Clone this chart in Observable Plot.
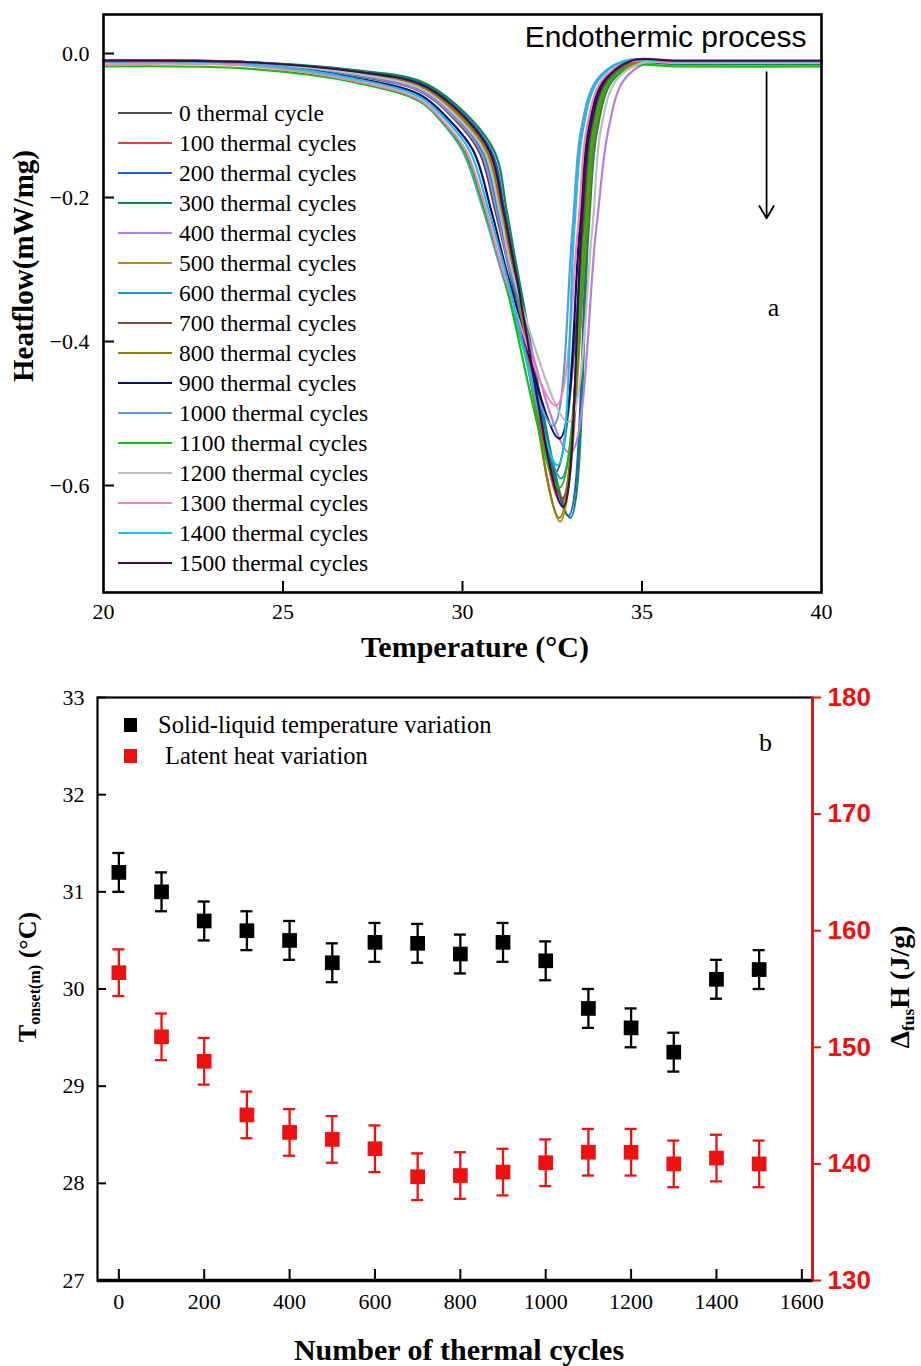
<!DOCTYPE html>
<html><head><meta charset="utf-8">
<script src="https://cdn.jsdelivr.net/npm/d3@7"></script>
<script src="https://cdn.jsdelivr.net/npm/@observablehq/plot@0.6"></script>
<style>
body{margin:0;background:#fff;}
#wrap{position:relative;width:921px;height:1366px;font-family:"Liberation Serif","Times New Roman",serif;color:#000;}
#wrap svg{display:block;}
.abs{position:absolute;white-space:nowrap;line-height:1;}
.rot{transform:translate(-50%,-50%) rotate(-90deg);}
.ctr{transform:translate(-50%,-50%);}
.lg{position:absolute;left:118px;top:98px;}
.lg .row{display:flex;align-items:center;height:30px;font-size:23.5px;}
.lg .sw{width:54px;height:2.6px;margin-right:7px;}
sub{font-size:0.62em;vertical-align:-0.3em;}
</style></head><body><div id="wrap"></div>
<script>
// ---------- Panel a: DSC curves ----------
const cycleLabels = ["0 thermal cycle","100 thermal cycles","200 thermal cycles","300 thermal cycles","400 thermal cycles","500 thermal cycles","600 thermal cycles","700 thermal cycles","800 thermal cycles","900 thermal cycles","1000 thermal cycles","1100 thermal cycles","1200 thermal cycles","1300 thermal cycles","1400 thermal cycles","1500 thermal cycles"];
const cycleColors = ["#4d4d4d","#ee3b3b","#1a5fd8","#0b8a4e","#b57ee0","#c8860c","#1b98c2","#7b4b40","#8c7b12","#0b0b6b","#5b9bd5","#12c012","#bdbdbd","#ff7fb0","#12c2ea","#3d0d4d"];
// [temperature (°C), heat flow (mW/mg)]
const dsc0    = [[20,-0.011],[24,-0.013],[27,-0.031],[28.8,-0.052],[29.63,-0.084],[30.45,-0.135],[30.91,-0.218],[31.37,-0.315],[32.58,-0.582],[33.38,-0.246],[33.62,-0.107],[34.04,-0.038],[34.77,-0.012],[36,-0.012],[40,-0.012]];
const dsc100  = [[20,-0.010],[24,-0.012],[27,-0.028],[28.8,-0.048],[29.7,-0.081],[30.6,-0.135],[31.03,-0.218],[31.45,-0.315],[32.75,-0.625],[33.36,-0.246],[33.6,-0.107],[34.02,-0.038],[34.75,-0.012],[36,-0.012],[40,-0.012]];
const dsc200  = [[20,-0.010],[24,-0.012],[27,-0.024],[28.8,-0.040],[29.8,-0.074],[30.8,-0.135],[31.17,-0.218],[31.54,-0.315],[32.95,-0.642],[33.48,-0.246],[33.72,-0.107],[34.14,-0.038],[34.87,-0.012],[36,-0.012],[40,-0.012]];
const dsc300  = [[20,-0.011],[24,-0.012],[27,-0.023],[28.8,-0.038],[29.84,-0.072],[30.88,-0.135],[31.23,-0.218],[31.58,-0.315],[33.0,-0.645],[33.51,-0.246],[33.75,-0.107],[34.17,-0.038],[34.9,-0.014],[36,-0.015],[40,-0.015]];
const dsc400  = [[20,-0.010],[24,-0.013],[27,-0.030],[28.8,-0.051],[29.65,-0.083],[30.5,-0.135],[30.95,-0.218],[31.4,-0.315],[33.0,-0.555],[33.72,-0.246],[34.06,-0.107],[34.48,-0.038],[35.15,-0.013],[36,-0.013],[40,-0.013]];
const dsc500  = [[20,-0.010],[24,-0.012],[27,-0.027],[28.8,-0.046],[29.73,-0.079],[30.65,-0.135],[31.06,-0.218],[31.47,-0.315],[32.72,-0.650],[33.46,-0.246],[33.7,-0.107],[34.12,-0.038],[34.85,-0.012],[36,-0.012],[40,-0.012]];
const dsc600  = [[20,-0.011],[24,-0.013],[27,-0.029],[28.8,-0.049],[29.68,-0.081],[30.55,-0.135],[30.99,-0.218],[31.42,-0.315],[32.75,-0.590],[33.41,-0.246],[33.65,-0.107],[34.07,-0.038],[34.8,-0.012],[36,-0.012],[40,-0.012]];
const dsc700  = [[20,-0.010],[24,-0.012],[27,-0.026],[28.8,-0.044],[29.75,-0.077],[30.7,-0.135],[31.1,-0.218],[31.49,-0.315],[32.78,-0.618],[33.36,-0.246],[33.6,-0.107],[34.02,-0.038],[34.75,-0.011],[36,-0.011],[40,-0.011]];
const dsc800  = [[20,-0.010],[24,-0.012],[27,-0.026],[28.8,-0.044],[29.75,-0.077],[30.7,-0.135],[31.1,-0.218],[31.49,-0.315],[32.7,-0.645],[33.46,-0.246],[33.7,-0.107],[34.12,-0.038],[34.85,-0.012],[36,-0.012],[40,-0.012]];
const dsc900  = [[20,-0.011],[24,-0.014],[27,-0.034],[28.8,-0.057],[29.55,-0.088],[30.3,-0.135],[30.8,-0.218],[31.3,-0.315],[32.7,-0.535],[33.26,-0.246],[33.5,-0.107],[33.92,-0.038],[34.65,-0.011],[36,-0.011],[40,-0.011]];
const dsc1000 = [[20,-0.011],[24,-0.014],[27,-0.039],[28.8,-0.066],[29.4,-0.094],[30.0,-0.135],[30.58,-0.218],[31.16,-0.315],[32.52,-0.517],[33.06,-0.246],[33.3,-0.107],[33.72,-0.038],[34.45,-0.011],[36,-0.011],[40,-0.011]];
const dsc1100 = [[20,-0.018],[24,-0.021],[27,-0.040],[28.8,-0.066],[29.43,-0.094],[30.05,-0.135],[30.62,-0.218],[31.18,-0.315],[32.7,-0.603],[33.41,-0.246],[33.65,-0.107],[34.07,-0.040],[34.8,-0.017],[36,-0.018],[40,-0.018]];
const dsc1200 = [[20,-0.011],[24,-0.013],[27,-0.028],[28.8,-0.048],[29.7,-0.081],[30.6,-0.135],[31.03,-0.218],[31.45,-0.315],[32.95,-0.512],[33.61,-0.246],[33.85,-0.107],[34.27,-0.038],[35.0,-0.013],[36,-0.013],[40,-0.013]];
const dsc1300 = [[20,-0.015],[24,-0.017],[27,-0.038],[28.8,-0.064],[29.45,-0.093],[30.1,-0.135],[30.66,-0.218],[31.21,-0.315],[32.6,-0.489],[33.21,-0.246],[33.45,-0.107],[33.87,-0.038],[34.6,-0.012],[36,-0.012],[40,-0.012]];
const dsc1400 = [[20,-0.011],[24,-0.014],[27,-0.035],[28.8,-0.060],[29.5,-0.090],[30.2,-0.135],[30.73,-0.218],[31.26,-0.315],[32.65,-0.572],[33.11,-0.246],[33.35,-0.107],[33.77,-0.038],[34.5,-0.011],[36,-0.011],[40,-0.011]];
const dsc1500 = [[20,-0.010],[24,-0.012],[27,-0.025],[28.8,-0.042],[29.78,-0.075],[30.75,-0.135],[31.14,-0.218],[31.52,-0.315],[32.8,-0.630],[33.31,-0.246],[33.55,-0.107],[33.97,-0.038],[34.7,-0.010],[36,-0.010],[40,-0.010]];
const dscSeries = [dsc0,dsc100,dsc200,dsc300,dsc400,dsc500,dsc600,dsc700,dsc800,dsc900,dsc1000,dsc1100,dsc1200,dsc1300,dsc1400,dsc1500];
const tempTicks = [20,25,30,35,40];
const heatTicks = [0,-0.2,-0.4,-0.6];
const endoText = [{x:39.58,y:0.022,t:"Endothermic process"}];
const endoArrow = [{x:38.47,y1:-0.026,y2:-0.229}];
const panelA = [{x:38.66,y:-0.353,t:"a"}];

// ---------- Panel b: cycling ----------
const cycles = [0,100,200,300,400,500,600,700,800,900,1000,1100,1200,1300,1400,1500];
const tOnset = [31.2,31.0,30.7,30.6,30.5,30.27,30.48,30.47,30.36,30.48,30.29,29.8,29.6,29.35,30.1,30.2];
const tOnsetErr = [0.2,0.2,0.2,0.2,0.2,0.2,0.2,0.2,0.2,0.2,0.2,0.2,0.2,0.2,0.2,0.2];
const latentHeat = [156.4,150.9,148.8,144.2,142.7,142.1,141.3,138.9,139.0,139.3,140.1,141.0,141.0,140.0,140.5,140.0];
const latentErr = [2.0,2.0,2.0,2.0,2.0,2.0,2.0,2.0,2.0,2.0,2.0,2.0,2.0,2.0,2.0,2.0];
const cycleTicks = [0,200,400,600,800,1000,1200,1400,1600];
const tTicks = [27,28,29,30,31,32,33];
const hTicks = [130,140,150,160,170,180];
const panelB = [{x:1515,y:32.53,t:"b"}];

(function(){
const SERIF = "'Liberation Serif', 'Times New Roman', serif";
const SANS = "'Liberation Sans', Arial, sans-serif";
const RED = "#ee1111";
const wrap = document.getElementById("wrap");
const svgStyle = `font-family: ${SERIF}; font-size: 22px; color: #000; background: transparent;`;

function fixFonts(chart){
  d3.select(chart).selectAll("text").style("font-family", SERIF);
  d3.select(chart).selectAll("g").filter(function(){return this.getAttribute("fill")===RED;}).selectAll("text").style("font-family", SANS);
  d3.select(chart).selectAll("g").filter(function(){return this.getAttribute("aria-label")==="text" && this.dataset.sans==="1";});
}

// ---- top plot
const A = {w:921,h:670,mt:14,mb:78,ml:103,mr:100};
const aPW = A.w-A.ml-A.mr, aPH = A.h-A.mt-A.mb;
const dscRows = [];
dscSeries.forEach((s,k)=>s.forEach(([t,h])=>dscRows.push({t,h,k})));
const chartA = Plot.plot({
  width:A.w,height:A.h,marginTop:A.mt,marginBottom:A.mb,marginLeft:A.ml,marginRight:A.mr,
  style:svgStyle,
  x:{domain:[20,40]},
  y:{domain:[-0.7486,0.0542]},
  marks:[
    ...dscSeries.map((s,k)=>Plot.line(dscRows.filter(d=>d.k===k),{x:"t",y:"h",stroke:cycleColors[k],strokeWidth:2.2,curve:"catmull-rom"})),
    Plot.frame({strokeWidth:2.6}),
    Plot.axisX({ticks:tempTicks,tickSize:0,tickPadding:11,label:null,fontSize:22,tickFormat:d3.format("d")}),
    Plot.tickX([25,30,35],{x:d=>d,insetTop:aPH-11,strokeWidth:2}),
    Plot.axisY({ticks:heatTicks,tickSize:0,tickPadding:14,tickFormat:d3.format(".1f"),label:null,fontSize:22}),
    Plot.tickY(heatTicks,{y:d=>d,insetRight:aPW-11,strokeWidth:2}),
    Plot.text(endoText,{x:"x",y:"y",text:"t",textAnchor:"end",fontSize:30,fill:"#010101"}),
    Plot.arrow(endoArrow,{x1:"x",x2:"x",y1:"y1",y2:"y2",strokeWidth:1.8,headLength:12}),
    Plot.text(panelA,{x:"x",y:"y",text:"t",fontSize:26})
  ]
});
wrap.appendChild(chartA);
fixFonts(chartA);
d3.select(chartA).selectAll("g").filter(function(){return this.getAttribute("fill")==="#010101";}).selectAll("text").style("font-family", SANS);

// ---- bottom plot
const B = {w:921,h:696,mt:27,mb:86,ml:97,mr:109};
const bPW = B.w-B.ml-B.mr, bPH = B.h-B.mt-B.mb;
const toLeft = h => 27 + (h-130)*6/50;
const idx = d3.range(cycles.length);
const chartB = Plot.plot({
  width:B.w,height:B.h,marginTop:B.mt,marginBottom:B.mb,marginLeft:B.ml,marginRight:B.mr,
  style:svgStyle,
  x:{domain:[-50,1625]},
  y:{domain:[27,33]},
  marks:[
    Plot.frame({strokeWidth:2.2}),
    Plot.ruleY([27],{strokeWidth:3.6}),
    Plot.ruleX([1625],{stroke:RED,strokeWidth:2.6}),
    Plot.axisX({ticks:cycleTicks,tickSize:0,tickPadding:13,label:null,fontSize:22,tickFormat:d3.format("d")}),
    Plot.tickX(cycleTicks,{x:d=>d,insetTop:bPH-11,strokeWidth:2}),
    Plot.axisY({ticks:tTicks,tickSize:0,tickPadding:13,label:null,fontSize:22,tickFormat:d3.format("d")}),
    Plot.tickY(tTicks,{y:d=>d,insetRight:bPW-9,strokeWidth:2}),
    Plot.axisY(hTicks.map(toLeft),{anchor:"right",color:RED,tickSize:8,tickPadding:7,strokeWidth:2,tickFormat:d=>String(Math.round(130+(d-27)*50/6)),fontWeight:"bold",fontSize:26,label:null}),
    Plot.ruleX(idx,{x:i=>cycles[i],y1:i=>tOnset[i]-tOnsetErr[i],y2:i=>tOnset[i]+tOnsetErr[i],strokeWidth:2.3}),
    Plot.ruleY(idx,{x1:i=>cycles[i],x2:i=>cycles[i],y:i=>tOnset[i]-tOnsetErr[i],insetLeft:-6,insetRight:-6,strokeWidth:2.3}),
    Plot.ruleY(idx,{x1:i=>cycles[i],x2:i=>cycles[i],y:i=>tOnset[i]+tOnsetErr[i],insetLeft:-6,insetRight:-6,strokeWidth:2.3}),
    Plot.dot(idx,{x:i=>cycles[i],y:i=>tOnset[i],symbol:"square",r:8.3,fill:"#000",stroke:null}),
    Plot.ruleX(idx,{x:i=>cycles[i],y1:i=>toLeft(latentHeat[i]-latentErr[i]),y2:i=>toLeft(latentHeat[i]+latentErr[i]),stroke:RED,strokeWidth:2.3}),
    Plot.ruleY(idx,{x1:i=>cycles[i],x2:i=>cycles[i],y:i=>toLeft(latentHeat[i]-latentErr[i]),insetLeft:-6,insetRight:-6,stroke:RED,strokeWidth:2.3}),
    Plot.ruleY(idx,{x1:i=>cycles[i],x2:i=>cycles[i],y:i=>toLeft(latentHeat[i]+latentErr[i]),insetLeft:-6,insetRight:-6,stroke:RED,strokeWidth:2.3}),
    Plot.dot(idx,{x:i=>cycles[i],y:i=>toLeft(latentHeat[i]),symbol:"square",r:8.3,fill:RED,stroke:null}),
    Plot.text(panelB,{x:"x",y:"y",text:"t",fontSize:26})
  ]
});
wrap.appendChild(chartB);
fixFonts(chartB);

function addDiv(html, css, cls){const d=document.createElement("div");d.className="abs "+(cls||"");d.innerHTML=html;Object.assign(d.style,css);wrap.appendChild(d);return d;}
addDiv("Heatflow(mW/mg)",{left:"23px",top:"266px",fontWeight:"bold",fontSize:"29px"},"rot");
addDiv("Temperature (°C)",{left:"475px",top:"647px",fontWeight:"bold",fontSize:"30px"},"ctr");
addDiv("T<sub>onset(m)</sub> (°C)",{left:"29px",top:"977px",fontWeight:"bold",fontSize:"26px"},"rot");
addDiv("Δ<sub>fus</sub>H (J/g)",{left:"902px",top:"987px",fontWeight:"bold",fontSize:"28px"},"rot");
addDiv("Number of thermal cycles",{left:"459px",top:"1350px",fontWeight:"bold",fontSize:"30px"},"ctr");

const lg = document.createElement("div"); lg.className="lg";
cycleLabels.forEach((lab,k)=>{
  const r=document.createElement("div"); r.className="row";
  const sw=document.createElement("span"); sw.className="sw"; sw.style.background=cycleColors[k];
  const tx=document.createElement("span"); tx.textContent=lab;
  r.appendChild(sw); r.appendChild(tx); lg.appendChild(r);
});
wrap.appendChild(lg);

const legB = [{label:"Solid-liquid temperature variation",color:"#000",tx:158,y:725},{label:"Latent heat variation",color:RED,tx:165,y:756}];
legB.forEach(l=>{
  addDiv("",{left:"124px",top:(l.y-7)+"px",width:"13px",height:"14px",background:l.color});
  addDiv(l.label,{left:l.tx+"px",top:(l.y-12)+"px",fontSize:"24.5px"});
});
})();
</script></body></html>
